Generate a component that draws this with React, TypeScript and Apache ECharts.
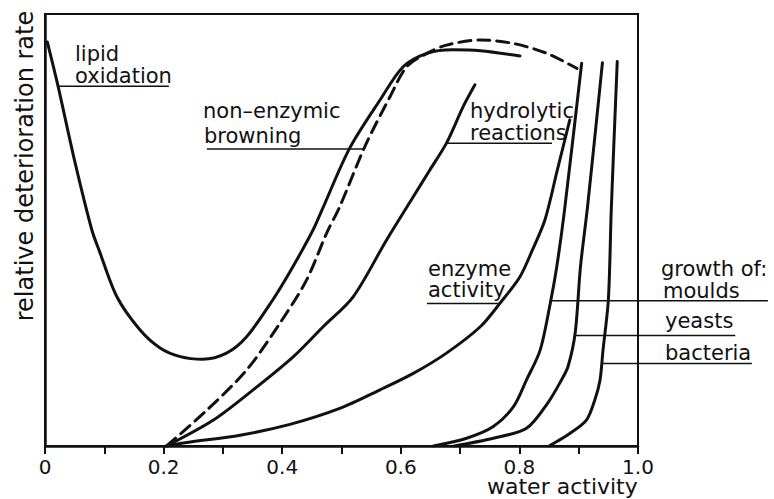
import React, { useEffect, useRef } from "react";
import * as echarts from "echarts";

// water activity (x, 0..1) vs relative deterioration rate (y, 0..100)
const lipidOxidation: [number, number][] = [
  [0.004, 93.5], [0.022, 83.3], [0.05, 66], [0.079, 50], [0.091, 45.4], [0.121, 34.6],
  [0.16, 26.9], [0.194, 22.7], [0.228, 20.7], [0.266, 20.1], [0.306, 21.5],
  [0.34, 25.3], [0.384, 33.8], [0.418, 41.5], [0.452, 50], [0.467, 54.6],
  [0.514, 69.0], [0.565, 80.1], [0.604, 87.8], [0.644, 90.9], [0.688, 91.7],
  [0.734, 91.5], [0.801, 90.3],
];
const nonEnzymicBrowning: [number, number][] = [
  [0.205, 0], [0.273, 8.3], [0.34, 17.6], [0.396, 28.4], [0.441, 38.4],
  [0.475, 49.3], [0.497, 55.4], [0.54, 69.5], [0.582, 80.9], [0.61, 87.8],
  [0.644, 90.9], [0.677, 92.8], [0.734, 94.0], [0.789, 93.2], [0.846, 90.9],
  [0.897, 87.4],
];
const hydrolyticReactions: [number, number][] = [
  [0.205, 0], [0.284, 6.0], [0.351, 13.0], [0.419, 20.7], [0.469, 27.6],
  [0.52, 34.6], [0.576, 47.7], [0.621, 57.7], [0.649, 63.9], [0.677, 70.1],
  [0.705, 78.5], [0.725, 83.6],
];
const enzymeActivity: [number, number][] = [
  [0.205, 0], [0.239, 0.8], [0.329, 2.5], [0.413, 5.0], [0.497, 8.7],
  [0.565, 13.0], [0.621, 16.8], [0.677, 21.5], [0.734, 27.6], [0.767, 33.0],
  [0.801, 39.2], [0.822, 45.4], [0.843, 52.3], [0.864, 63.9], [0.885, 75.5],
];
const moulds: [number, number][] = [
  [0.655, 0], [0.711, 1.8], [0.756, 4.5], [0.79, 9.1], [0.812, 15.3],
  [0.835, 22.2], [0.852, 33.0], [0.863, 41.5], [0.876, 54.5], [0.905, 88.6],
];
const yeasts: [number, number][] = [
  [0.69, 0], [0.756, 1.8], [0.812, 4.1], [0.848, 10.0], [0.871, 15.3],
  [0.882, 18.4], [0.894, 26.1], [0.903, 41.5], [0.915, 55.5], [0.94, 88.7],
];
const bacteria: [number, number][] = [
  [0.85, 0], [0.885, 2.9], [0.913, 6.0], [0.927, 10.6], [0.936, 15.3],
  [0.941, 22.2], [0.95, 33.8], [0.955, 55.0], [0.965, 89.0],
];

// leader lines from the labels to the curves
const leaders: [number, number][][] = [
  [[0.022, 83.3], [0.209, 83.3]],
  [[0.273, 68.75], [0.536, 68.75]],
  [[0.678, 70.1], [0.855, 70.1]],
  [[0.644, 33.0], [0.767, 33.0]],
  [[0.855, 33.6], [1.219, 33.6]],
  [[0.894, 25.6], [1.164, 25.6]],
  [[0.941, 19.1], [1.192, 19.1]],
];

const xTicks = [0, 0.2, 0.4, 0.6, 0.8, 1.0];
const tickLabels = ["0", "0.2", "0.4", "0.6", "0.8", "1.0"];

const FONT = "DejaVu Sans";
const INK = "#111";

export default function App() {
  const ref = useRef<HTMLDivElement>(null);
  useEffect(() => {
    if (!ref.current) return;
    const chart = echarts.init(ref.current, undefined, { renderer: "svg" });
    const curve = (name: string, data: [number, number][], dashed = false) => ({
      name,
      type: "line",
      data,
      showSymbol: false,
      smooth: 0.3,
      lineStyle: { color: INK, width: 3, type: dashed ? [12, 7] : "solid", cap: "round" },
      z: 3,
    });
    const lbl = (text: string, x: number, y: number, size = 21) => ({
      type: "text",
      x,
      y,
      style: {
        text,
        fill: INK,
        font: `${size}px "${FONT}"`,
        textAlign: "left",
        textVerticalAlign: "middle",
        verticalAlign: "middle",
      },
    });
    // second, wider coordinate frame (same scale) so leader lines may run past the box
    const widerMax = (774 - 45) / 593;
    chart.setOption({
      animation: false,
      grid: [
        { left: 45, right: 136, top: 14, bottom: 53, show: true, borderColor: INK, borderWidth: 2, backgroundColor: "transparent" },
        { left: 45, right: 0, top: 14, bottom: 53, show: false },
      ],
      xAxis: [
        {
          type: "value",
          gridIndex: 0,
          min: 0,
          max: 1,
          interval: 0.1,
          splitLine: { show: false },
          axisLine: { lineStyle: { color: INK, width: 2.5 } },
          axisTick: { length: 8, lineStyle: { color: INK, width: 2 } },
          axisLabel: {
            color: INK,
            fontFamily: FONT,
            fontSize: 20,
            margin: 11,
            formatter: (v: number) => {
              const i = xTicks.findIndex((t) => Math.abs(t - v) < 1e-6);
              return i >= 0 ? tickLabels[i] : "";
            },
          },
        },
        { type: "value", gridIndex: 1, min: 0, max: widerMax, show: false },
      ],
      yAxis: [
        {
          type: "value",
          gridIndex: 0,
          min: 0,
          max: 100,
          splitLine: { show: false },
          axisLine: { show: true, lineStyle: { color: INK, width: 2.5 } },
          axisTick: { show: false },
          axisLabel: { show: false },
        },
        { type: "value", gridIndex: 1, min: 0, max: 100, show: false },
      ],
      series: [
        curve("lipid oxidation", lipidOxidation),
        curve("non-enzymic browning", nonEnzymicBrowning, true),
        curve("hydrolytic reactions", hydrolyticReactions),
        curve("enzyme activity", enzymeActivity),
        curve("moulds", moulds),
        curve("yeasts", yeasts),
        curve("bacteria", bacteria),
        ...leaders.map((d, i) => ({
          name: "leader" + i,
          type: "line",
          xAxisIndex: 1,
          yAxisIndex: 1,
          data: d,
          showSymbol: false,
          silent: true,
          lineStyle: { color: INK, width: 1.5 },
          z: 2,
        })),
      ],
      graphic: [
        lbl("lipid", 75, 54),
        lbl("oxidation", 75, 76),
        lbl("non\u2013enzymic", 203, 111),
        lbl("browning", 204, 136),
        lbl("hydrolytic", 470, 111),
        lbl("reactions", 470, 133),
        lbl("enzyme", 428, 269),
        lbl("activity", 428, 290),
        lbl("growth of:", 661, 269),
        lbl("moulds", 663, 291),
        lbl("yeasts", 665, 321),
        lbl("bacteria", 665, 353),
        lbl("water activity", 487, 486, 22),
        {
          type: "text",
          x: 25,
          y: 166,
          rotation: Math.PI / 2,
          style: {
            text: "relative deterioration rate",
            fill: INK,
            font: `24px "${FONT}"`,
            textAlign: "center",
            textVerticalAlign: "middle",
            verticalAlign: "middle",
          },
        },
      ],
    });
    return () => chart.dispose();
  }, []);
  return (
    <div
      ref={ref}
      style={{ position: "absolute", left: 0, top: 0, width: 774, height: 499, background: "#fff" }}
    />
  );
}
